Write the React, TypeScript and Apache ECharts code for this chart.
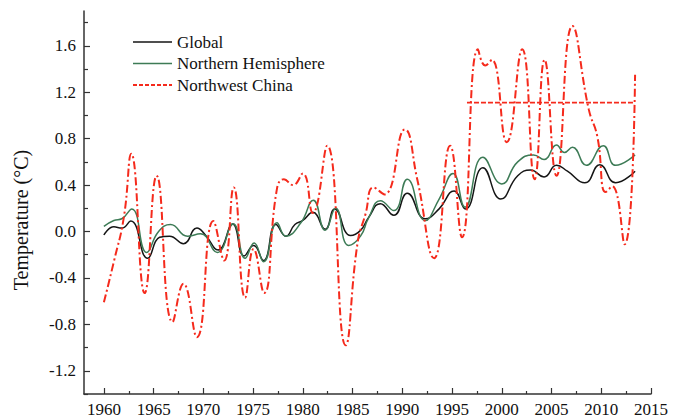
import React, { useEffect, useRef } from "react";
import * as echarts from "echarts";

// ---- Data ----
const globalYears = [1960.0, 1961.0, 1961.8, 1962.7, 1964.4, 1965.6, 1966.6, 1968.0, 1969.35, 1970.2, 1971.5, 1972.95, 1974.1, 1975.05, 1976.05, 1977.3, 1978.3, 1979.2, 1980.0, 1981.0, 1982.25, 1983.2, 1984.8, 1985.8, 1986.6, 1987.8, 1989.15, 1990.5, 1992.3, 1993.7, 1995.2, 1996.35, 1998.1, 1999.9, 2001.6, 2002.9, 2004.25, 2005.5, 2006.6, 2008.35, 2009.85, 2011.45, 2013.4];
const globalValues = [-0.03, 0.04, 0.03, 0.09, -0.23, -0.05, -0.04, -0.105, 0.03, -0.03, -0.16, 0.065, -0.21, -0.12, -0.25, 0.06, -0.04, 0.06, 0.095, 0.165, 0.02, 0.195, -0.035, 0.01, 0.12, 0.24, 0.14, 0.33, 0.11, 0.195, 0.35, 0.195, 0.55, 0.28, 0.48, 0.53, 0.47, 0.57, 0.52, 0.42, 0.575, 0.42, 0.52];

const nhYears = [1960.0, 1961.0, 1961.8, 1962.8, 1964.3, 1965.5, 1966.7, 1968.4, 1969.7, 1971.4, 1973.0, 1974.2, 1975.1, 1976.05, 1977.4, 1978.3, 1979.8, 1981.05, 1982.25, 1983.3, 1984.6, 1985.8, 1986.6, 1987.8, 1989.15, 1990.5, 1992.3, 1993.7, 1995.1, 1996.3, 1998.1, 2000.0, 2001.6, 2003.2, 2004.25, 2005.5, 2006.3, 2007.1, 2008.5, 2010.2, 2011.45, 2013.4];
const nhValues = [0.045, 0.095, 0.11, 0.195, -0.18, 0.0, 0.06, -0.04, -0.02, -0.18, 0.065, -0.23, -0.1, -0.26, 0.075, -0.04, 0.075, 0.27, 0.01, 0.2, -0.12, -0.04, 0.115, 0.265, 0.18, 0.45, 0.095, 0.28, 0.5, 0.21, 0.64, 0.41, 0.6, 0.66, 0.62, 0.745, 0.68, 0.725, 0.57, 0.74, 0.57, 0.66];

const nwYears = [1960.0, 1961.0, 1962.0, 1962.75, 1964.1, 1965.3, 1966.9, 1968.0, 1969.35, 1971.0, 1972.1, 1973.05, 1974.2, 1975.05, 1976.1, 1977.4, 1978.1, 1979.0, 1980.0, 1981.0, 1982.45, 1984.3, 1985.5, 1986.3, 1987.1, 1988.2, 1990.25, 1991.5, 1993.2, 1994.8, 1996.0, 1997.6, 1998.35, 1999.0, 2000.5, 2002.05, 2003.3, 2004.3, 2005.5, 2007.1, 2008.75, 2009.6, 2010.45, 2011.1, 2012.35, 2013.4];
const nwValues = [-0.61, -0.26, 0.12, 0.67, -0.53, 0.48, -0.78, -0.45, -0.91, 0.09, -0.25, 0.38, -0.57, -0.15, -0.53, 0.37, 0.45, 0.4, 0.5, 0.16, 0.74, -0.98, -0.1, 0.15, 0.38, 0.32, 0.88, 0.45, -0.23, 0.74, -0.05, 1.57, 1.43, 1.48, 0.77, 1.57, 0.45, 1.48, 0.48, 1.77, 1.05, 0.82, 0.34, 0.39, -0.11, 1.35];

const nwMeanYears = [1996.5, 2013.3];
const nwMeanValue = 1.11;

const xMajorTicks = [1960, 1965, 1970, 1975, 1980, 1985, 1990, 1995, 2000, 2005, 2010, 2015];
const xMinorTicks = [1962.5, 1967.5, 1972.5, 1977.5, 1982.5, 1987.5, 1992.5, 1997.5, 2002.5, 2007.5, 2012.5];
const yMajorTicks = [-1.2, -0.8, -0.4, 0.0, 0.4, 0.8, 1.2, 1.6];
const yMinorTicks = [-1.4, -1.0, -0.6, -0.2, 0.2, 0.6, 1.0, 1.4, 1.8];

const seriesNames = ["Global", "Northern Hemisphere", "Northwest China"];
const yAxisTitle = "Temperature (°C)";

const FONT = "'Liberation Serif', 'Times New Roman', serif";
const AXIS_COLOR = "#333";
const C_GLOBAL = "#151515";
const C_NH = "#3d7b56";
const C_NW = "#f52a1c";

const labelRich = { t: { fontFamily: FONT, fontSize: 17, color: "#111" } };

function zip(xs: number[], ys: number[]) {
  return xs.map((x, i) => [x, ys[i]]);
}

export default function App() {
  const ref = useRef<HTMLDivElement>(null);

  useEffect(() => {
    if (!ref.current) return;
    const chart = echarts.init(ref.current, undefined, { renderer: "svg" });

    const xBase = {
      type: "value",
      min: 1958,
      max: 2015,
      splitLine: { show: false },
    };
    const yBase = {
      type: "value",
      min: -1.4,
      max: 1.9,
      splitLine: { show: false },
    };

    const legendRows = [
      { name: seriesNames[0], y: 42, color: C_GLOBAL, dash: null as number[] | null },
      { name: seriesNames[1], y: 63.5, color: C_NH, dash: null as number[] | null },
      { name: seriesNames[2], y: 85, color: C_NW, dash: [4, 2] },
    ];
    const graphics: any[] = [];
    legendRows.forEach((r) => {
      graphics.push({
        type: "line",
        shape: { x1: 133, y1: r.y, x2: 172, y2: r.y },
        style: { stroke: r.color, lineWidth: r.dash ? 1.8 : 1.5, lineDash: r.dash || undefined },
        silent: true,
      });
      graphics.push({
        type: "text",
        x: 177,
        y: r.y,
        style: {
          text: r.name,
          font: `17px ${FONT}`,
          fill: "#111",
          verticalAlign: "middle",
          align: "left",
        },
        silent: true,
      });
    });
    graphics.push({
      type: "text",
      x: 21,
      y: 220,
      rotation: Math.PI / 2,
      style: {
        text: yAxisTitle,
        font: `20px ${FONT}`,
        fill: "#111",
        align: "center",
        verticalAlign: "middle",
      },
      silent: true,
    });

    chart.setOption({
      animation: false,
      backgroundColor: "#fff",
      textStyle: { fontFamily: FONT, fontSize: 17 },
      grid: { left: 84, right: 23, top: 11, bottom: 25, containLabel: false },
      graphic: graphics,
      xAxis: [
        {
          ...xBase,
          position: "bottom",
          axisLine: { show: true, onZero: false, lineStyle: { color: AXIS_COLOR, width: 1.5 } },
          axisTick: { show: true, inside: true, length: 6, customValues: xMajorTicks, lineStyle: { color: AXIS_COLOR, width: 1.2 } },
          axisLabel: {
            show: true,
            customValues: xMajorTicks,
            margin: 7,
            fontFamily: FONT,
            fontSize: 17,
            color: "#111",
            rich: labelRich,
            formatter: (v: number) => `{t|${Math.round(v)}}`,
          },
        },
        {
          ...xBase,
          position: "bottom",
          axisLine: { show: false, onZero: false },
          axisTick: { show: true, inside: true, length: 3, customValues: xMinorTicks, lineStyle: { color: AXIS_COLOR, width: 1.2 } },
          axisLabel: { show: false },
        },
      ],
      yAxis: [
        {
          ...yBase,
          position: "left",
          axisLine: { show: true, onZero: false, lineStyle: { color: AXIS_COLOR, width: 1.5 } },
          axisTick: { show: true, inside: true, length: 6, customValues: yMajorTicks, lineStyle: { color: AXIS_COLOR, width: 1.2 } },
          axisLabel: {
            show: true,
            customValues: yMajorTicks,
            margin: 8,
            fontFamily: FONT,
            fontSize: 17,
            color: "#111",
            rich: labelRich,
            formatter: (v: number) => `{t|${Math.abs(v) < 1e-9 ? "0.0" : v.toFixed(1)}}`,
          },
        },
        {
          ...yBase,
          position: "left",
          axisLine: { show: false, onZero: false },
          axisTick: { show: true, inside: true, length: 4, customValues: yMinorTicks, lineStyle: { color: AXIS_COLOR, width: 1.2 } },
          axisLabel: { show: false },
        },
      ],
      series: [
        {
          name: seriesNames[0],
          type: "line",
          data: zip(globalYears, globalValues),
          smooth: 0.5,
          symbol: "none",
          lineStyle: { color: C_GLOBAL, width: 1.5 },
          itemStyle: { color: C_GLOBAL },
          z: 2,
        },
        {
          name: seriesNames[1],
          type: "line",
          data: zip(nhYears, nhValues),
          smooth: 0.5,
          symbol: "none",
          lineStyle: { color: C_NH, width: 1.5 },
          itemStyle: { color: C_NH },
          z: 3,
        },
        {
          name: seriesNames[2],
          type: "line",
          data: zip(nwYears, nwValues),
          smooth: 0.5,
          symbol: "none",
          lineStyle: { color: C_NW, width: 2, type: [8, 3, 2, 3] },
          itemStyle: { color: C_NW },
          z: 4,
        },
        {
          name: "Northwest China mean",
          type: "line",
          data: nwMeanYears.map((x) => [x, nwMeanValue]),
          symbol: "none",
          lineStyle: { color: C_NW, width: 1.8, type: [5, 2] },
          itemStyle: { color: C_NW },
          z: 4,
        },
      ],
    });

    return () => chart.dispose();
  }, []);

  return (
    <div
      ref={ref}
      style={{ position: "fixed", left: 0, top: 0, width: 674, height: 419, background: "#fff" }}
    />
  );
}
